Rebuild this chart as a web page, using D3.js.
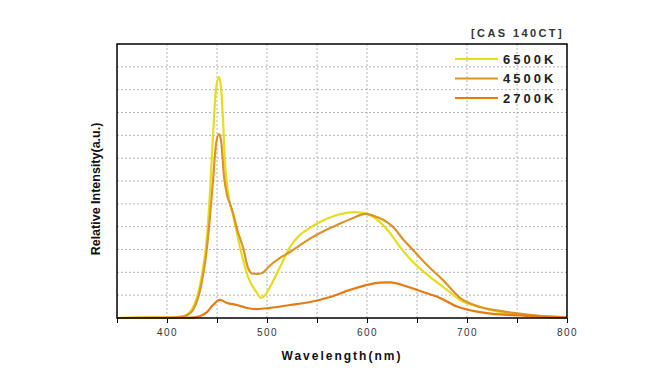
<!DOCTYPE html>
<html>
<head>
<meta charset="utf-8">
<script src="https://cdn.jsdelivr.net/npm/d3@7"></script>
<style>
  body { margin: 0; background: #fff; }
  svg { display: block; font-family: "Liberation Sans", Arial, sans-serif; }
</style>
</head>
<body>
<svg id="chart" width="661" height="384"></svg>
<script>
// spectra: wavelength (nm) and relative intensity (grid units)
let wl6500 = [350, 380, 400, 410, 415, 420, 425, 430, 435, 440, 443, 446, 449, 452, 454, 456, 458, 461, 466, 470, 473, 481, 490, 494, 498, 503, 513, 523, 533, 543, 553, 570, 588, 600, 613, 623, 633, 646, 663, 680, 693, 713, 733, 750, 775, 800];
let val6500 = [0, 0.03, 0.02, 0.04, 0.07, 0.15, 0.38, 0.9, 1.9, 3.6, 5.5, 8.0, 10.0, 10.55, 10.1, 8.7, 6.8, 5.5, 4.5, 3.7, 3.1, 1.8, 1.1, 0.88, 1.0, 1.36, 2.23, 3.11, 3.64, 3.95, 4.2, 4.51, 4.64, 4.56, 4.2, 3.72, 3.11, 2.45, 1.8, 1.23, 0.79, 0.48, 0.26, 0.17, 0.07, 0.02];

let wl4500 = [350, 400, 415, 420, 426, 433, 440, 446, 449, 452, 454, 457, 460, 463, 466, 470, 476, 481, 485, 490, 495, 503, 513, 523, 536, 553, 570, 586, 598, 610, 620, 626, 636, 646, 660, 676, 693, 713, 733, 750, 770, 800];
let val4500 = [0, 0.01, 0.05, 0.12, 0.35, 1.2, 3.1, 6.0, 7.6, 8.05, 7.8, 6.2, 5.4, 5.0, 4.6, 3.9, 3.1, 2.2, 1.95, 1.93, 1.97, 2.3, 2.63, 2.89, 3.28, 3.72, 4.07, 4.38, 4.56, 4.42, 4.2, 3.99, 3.45, 2.98, 2.32, 1.66, 0.88, 0.48, 0.31, 0.2, 0.1, 0.03];

let wl2700 = [350, 420, 430, 435, 440, 446, 453, 460, 470, 480, 490, 503, 523, 543, 563, 583, 600, 613, 623, 640, 656, 673, 690, 706, 726, 750, 775, 800];
let val2700 = [0, 0.01, 0.05, 0.12, 0.26, 0.57, 0.79, 0.66, 0.57, 0.44, 0.39, 0.44, 0.57, 0.7, 0.92, 1.23, 1.45, 1.55, 1.56, 1.38, 1.14, 0.88, 0.5, 0.31, 0.18, 0.12, 0.05, 0.02];

let seriesNames = ["6500K", "4500K", "2700K"];
let seriesColors = ["#e6dd1e", "#dc9428", "#e87a14"];
let xTicks = [400, 500, 600, 700, 800];

let svg = d3.select("#chart");
let pLeft = 117, pRight = 567, pTop = 44, pBottom = 318;

let xMap = d3.scaleLinear().domain([350, 800]).range([pLeft, pRight]);
let yMap = d3.scaleLinear().domain([0, 12]).range([pBottom, pTop]);

// grid
let grid = svg.append("g");
grid.selectAll("line.v").data(d3.range(400, 800, 50)).enter().append("line")
    .attr("class", "v")
    .attr("x1", d => xMap(d)).attr("x2", d => xMap(d))
    .attr("y1", pTop).attr("y2", pBottom)
    .attr("stroke", "#b4b4b4").attr("stroke-dasharray", "2,2").attr("stroke-width", 1);
grid.selectAll("line.h").data(d3.range(1, 12)).enter().append("line")
    .attr("class", "h")
    .attr("x1", pLeft).attr("x2", pRight)
    .attr("y1", d => yMap(d)).attr("y2", d => yMap(d))
    .attr("stroke", "#b4b4b4").attr("stroke-dasharray", "2,2").attr("stroke-width", 1);

// curves
let series = [
    {wl: wl6500, v: val6500},
    {wl: wl4500, v: val4500},
    {wl: wl2700, v: val2700}
];
let line = d3.line()
    .x(d => xMap(d[0]))
    .y(d => yMap(d[1]))
    .curve(d3.curveMonotoneX);

series.forEach((s, i) => {
    svg.append("path")
        .datum(s.wl.map((w, j) => [w, s.v[j]]))
        .attr("fill", "none")
        .attr("stroke", seriesColors[i])
        .attr("stroke-width", 2.2)
        .attr("stroke-linejoin", "round")
        .attr("d", line);
});

// frame
svg.append("rect")
    .attr("x", pLeft).attr("y", pTop)
    .attr("width", pRight - pLeft).attr("height", pBottom - pTop)
    .attr("fill", "none").attr("stroke", "#000").attr("stroke-width", 1.5);

// x axis ticks
let xAxis = d3.axisBottom(xMap)
    .tickValues(d3.range(350, 801, 50))
    .tickSize(5)
    .tickFormat(d => xTicks.includes(d) ? d : "");
let gx = svg.append("g").attr("transform", `translate(0,${pBottom})`).call(xAxis);
gx.select(".domain").remove();
gx.selectAll(".tick line").attr("stroke", "#000").attr("stroke-width", 1);
gx.selectAll(".tick text")
    .attr("y", 11)
    .attr("font-size", "10px")
    .attr("fill", "#333")
    .attr("letter-spacing", "1.5px")
    .attr("font-family", "Liberation Sans, Arial, sans-serif");

// axis titles
svg.append("text")
    .attr("x", 342).attr("y", 360)
    .attr("text-anchor", "middle")
    .attr("font-size", "12px").attr("font-weight", "bold")
    .attr("letter-spacing", "2px")
    .attr("fill", "#111")
    .text("Wavelength(nm)");

svg.append("text")
    .attr("transform", "translate(100,189) rotate(-90)")
    .attr("text-anchor", "middle")
    .attr("font-size", "12.5px").attr("font-weight", "bold")
    .attr("fill", "#111")
    .text("Relative Intensity(a.u.)");

// title
svg.append("text")
    .attr("x", 471).attr("y", 37)
    .attr("font-size", "11px").attr("font-weight", "bold")
    .attr("letter-spacing", "2.4px")
    .attr("fill", "#333")
    .text("[CAS 140CT]");

// legend
let legend = svg.append("g");
seriesNames.forEach((n, i) => {
    let y = 59 + i * 19.5;
    legend.append("line")
        .attr("x1", 455).attr("x2", 498)
        .attr("y1", y).attr("y2", y)
        .attr("stroke", seriesColors[i]).attr("stroke-width", 2);
    legend.append("text")
        .attr("x", 503).attr("y", y + 4.5)
        .attr("font-size", "13px").attr("font-weight", "bold")
        .attr("letter-spacing", "3px")
        .attr("fill", "#222")
        .text(n);
});
</script>
</body>
</html>
